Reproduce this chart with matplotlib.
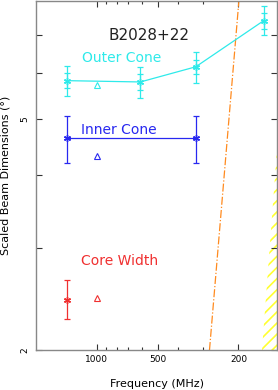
import numpy as np
import matplotlib
matplotlib.use("Agg")
import matplotlib.pyplot as plt
from matplotlib.ticker import FixedLocator, NullFormatter, FixedFormatter

# frequencies (MHz)
outer_freq = [1400, 610, 325, 150]
outer_width = [5.83, 5.80, 6.16, 7.40]
outer_lo = [5.48, 5.45, 5.78, 6.99]
outer_hi = [6.17, 6.15, 6.53, 7.84]
outer_lo2 = [5.66, 5.62, 5.98, 7.15]
outer_hi2 = [6.00, 5.98, 6.34, 7.62]

inner_freq = [1400, 325]
inner_width = [4.64, 4.64]
inner_lo = [4.20, 4.20]
inner_hi = [5.06, 5.06]

core_freq = [1400]
core_width = [2.44]
core_lo = [2.26]
core_hi = [2.64]

# predicted values at 1 GHz (triangles)
tri_freq = [1000, 1000, 1000]
tri_width = [5.74, 4.32, 2.455]

# dash-dot limit line and hatched region boundary
limit_freq = [278, 199]
limit_width = [2.0, 8.0]
hatch_freq = [153, 128]
hatch_width = [2.0, 4.6]

CYAN = "#2EEAEA"
BLUE = "#2828F0"
RED = "#F03030"
ORANGE = "#FF8A1E"
YELLOW = "#FFFF30"

plt.rcParams["hatch.linewidth"] = 1.2

fig = plt.figure(figsize=(2.78, 3.9), dpi=100)
ax = fig.add_axes([36 / 278, 40 / 390, 241 / 278, 349 / 390])
ax.set_xscale("log")
ax.set_yscale("log")
ax.set_xlim(2000, 129)
ax.set_ylim(2, 8)

star = (6, 2, 0)


def errs(vals, lo, hi):
    v = np.array(vals)
    return [v - np.array(lo), np.array(hi) - v]


ax.errorbar(outer_freq, outer_width, yerr=errs(outer_width, outer_lo, outer_hi),
            color=CYAN, marker=star, ms=5, lw=0.9, capsize=2.2, capthick=0.9)
ax.errorbar(outer_freq, outer_width, yerr=errs(outer_width, outer_lo2, outer_hi2),
            color=CYAN, ls="none", lw=0.9, capsize=2.2, capthick=0.9)
ax.errorbar(inner_freq, inner_width, yerr=errs(inner_width, inner_lo, inner_hi),
            color=BLUE, marker=star, ms=5, lw=0.9, capsize=2.2, capthick=0.9)
ax.errorbar(core_freq, core_width, yerr=errs(core_width, core_lo, core_hi),
            color=RED, marker=star, ms=5, lw=0.9, capsize=2.2, capthick=0.9)

for f, w, c in zip(tri_freq, tri_width, [CYAN, BLUE, RED]):
    ax.plot(f, w, marker="^", mfc="none", mec=c, ms=5, mew=0.8, ls="none")

ax.plot(limit_freq, limit_width, color=ORANGE, ls="-.", lw=0.9)

ax.fill_betweenx(hatch_width, hatch_freq, [ax.get_xlim()[1]] * 2,
                 facecolor="none", edgecolor=YELLOW, hatch="///", lw=0)

ax.text(0.299, 0.90, "B2028+22", transform=ax.transAxes, fontsize=11,
        color="#222222", va="center")
ax.text(0.191, 0.837, "Outer Cone", transform=ax.transAxes, fontsize=10,
        color=CYAN, va="center")
ax.text(0.187, 0.629, "Inner Cone", transform=ax.transAxes, fontsize=10,
        color=BLUE, va="center")
ax.text(0.187, 0.254, "Core Width", transform=ax.transAxes, fontsize=10,
        color=RED, va="center")

ax.xaxis.set_major_locator(FixedLocator([1000, 500, 200]))
ax.xaxis.set_major_formatter(FixedFormatter(["1000", "500", "200"]))
ax.xaxis.set_minor_locator(FixedLocator([900, 800, 700, 600, 400, 300]))
ax.xaxis.set_minor_formatter(NullFormatter())
ax.yaxis.set_major_locator(FixedLocator([2, 3, 4, 5, 6, 7]))
ax.yaxis.set_major_formatter(FixedFormatter(["2", "", "", "5", "", ""]))
ax.yaxis.set_minor_formatter(NullFormatter())
ax.yaxis.set_minor_locator(FixedLocator([]))

ax.tick_params(which="both", direction="in", top=True, right=True,
               labelsize=6.5, color="#333333", width=0.8)
ax.tick_params(which="major", length=4.5)
ax.tick_params(which="minor", length=2.5)
ax.tick_params(axis="y", labelrotation=90, pad=5)
for lab in ax.get_yticklabels():
    lab.set_va("center")

for s in ax.spines.values():
    s.set_color("#888888")
    s.set_linewidth(1.0)

ax.set_xlabel("Frequency (MHz)", fontsize=8, labelpad=11)
ax.set_ylabel("Scaled Beam Dimensions (°)", fontsize=8, labelpad=7)

fig.savefig("out.png", dpi=100)
